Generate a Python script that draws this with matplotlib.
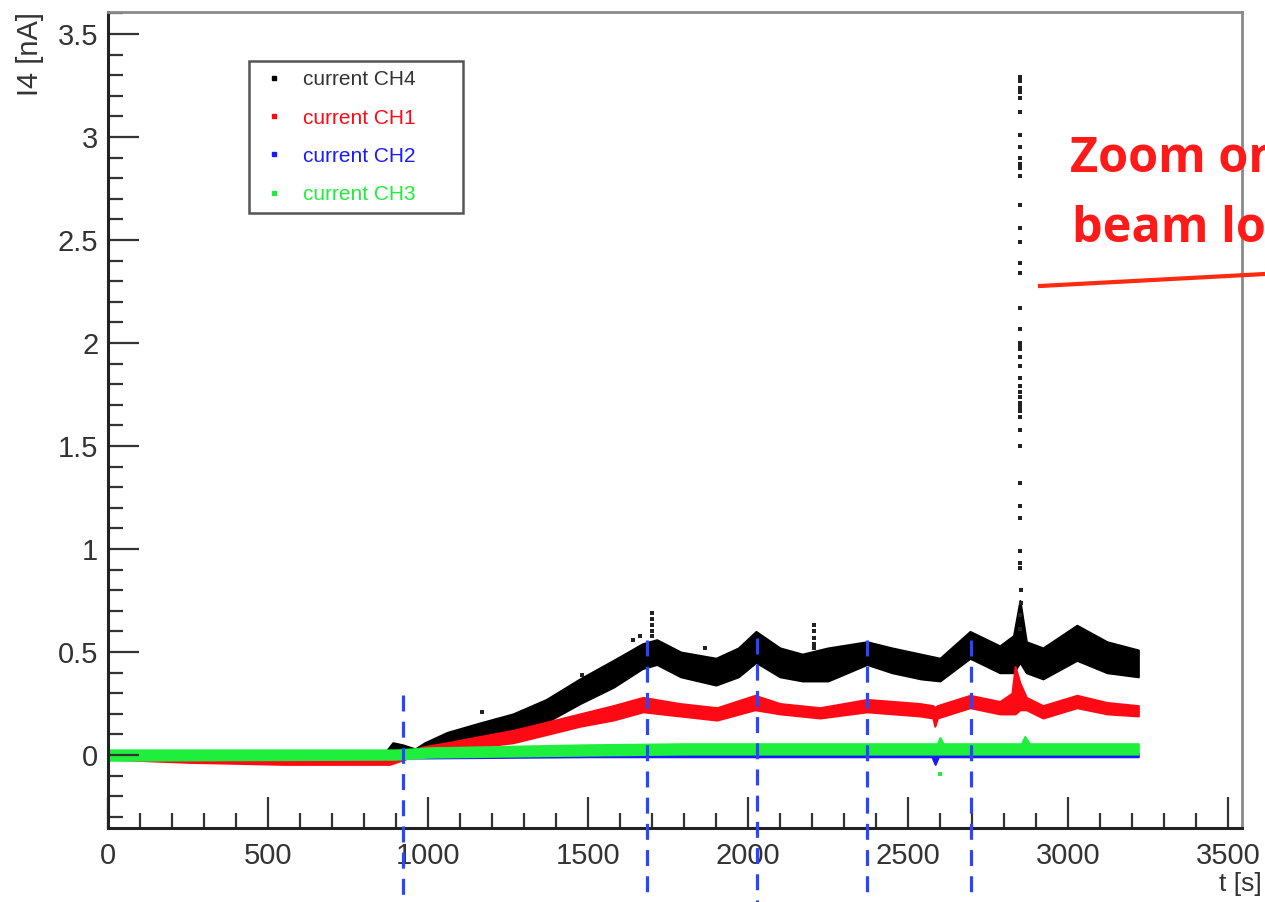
import matplotlib
matplotlib.use('Agg')
import matplotlib.pyplot as plt
from matplotlib import rcParams
from matplotlib.lines import Line2D
from matplotlib.ticker import MultipleLocator, FuncFormatter

rcParams['font.family'] = ['Liberation Sans', 'DejaVu Sans']

# ---- values: t [s], current [nA] ----
# each channel is a noisy band -> lower / upper edge of the band
t_ch4 = [0, 870, 890, 920, 960, 990, 1060, 1160, 1266, 1370, 1475, 1580, 1670, 1715,
         1790, 1900, 1970, 2025, 2100, 2170, 2250, 2372, 2450, 2540, 2600, 2694,
         2787, 2830, 2850, 2870, 2922, 3028, 3122, 3220]
lo_ch4 = [-0.02, -0.01, 0.02, 0.02, 0.01, 0.03, 0.04, 0.065, 0.11, 0.16, 0.25, 0.33, 0.42, 0.44,
          0.38, 0.34, 0.38, 0.45, 0.38, 0.36, 0.36, 0.44, 0.40, 0.37, 0.36, 0.47,
          0.40, 0.40, 0.45, 0.40, 0.37, 0.46, 0.40, 0.38]
hi_ch4 = [0.02, 0.02, 0.06, 0.05, 0.03, 0.06, 0.11, 0.155, 0.20, 0.27, 0.37, 0.46, 0.54, 0.56,
          0.50, 0.47, 0.52, 0.60, 0.52, 0.49, 0.52, 0.55, 0.52, 0.49, 0.47, 0.60,
          0.53, 0.58, 0.75, 0.55, 0.52, 0.63, 0.55, 0.51]

t_ch1 = [0, 250, 550, 880, 985, 1060, 1162, 1266, 1371, 1475, 1579, 1672, 1787, 1903,
         2022, 2100, 2225, 2372, 2537, 2578, 2584, 2592, 2694, 2787, 2825, 2835, 2850,
         2870, 2922, 3028, 3122, 3220]
lo_ch1 = [-0.02, -0.035, -0.045, -0.045, 0.01, 0.025, 0.04, 0.06, 0.10, 0.14, 0.17, 0.21, 0.19, 0.17,
          0.22, 0.20, 0.18, 0.21, 0.19, 0.18, 0.14, 0.18, 0.23, 0.20, 0.20, 0.20, 0.22,
          0.22, 0.18, 0.23, 0.20, 0.19]
hi_ch1 = [0.02, 0.005, -0.01, -0.01, 0.04, 0.06, 0.09, 0.12, 0.16, 0.20, 0.24, 0.28, 0.25, 0.23,
          0.29, 0.25, 0.23, 0.27, 0.25, 0.24, 0.23, 0.24, 0.29, 0.26, 0.30, 0.43, 0.35,
          0.28, 0.24, 0.29, 0.255, 0.24]

t_ch2 = [0, 900, 1500, 2575, 2585, 2595, 3220]
lo_ch2 = [-0.015, -0.015, -0.008, -0.008, -0.045, -0.008, -0.008]
hi_ch2 = [0.01, 0.01, 0.008, 0.008, 0.008, 0.008, 0.008]

t_ch3 = [0, 900, 1000, 1500, 1800, 2592, 2600, 2610, 2855, 2865, 2880, 3220]
lo_ch3 = [-0.025, -0.02, -0.01, 0.0, 0.005, 0.005, 0.005, 0.005, 0.005, 0.005, 0.005, 0.005]
hi_ch3 = [0.025, 0.025, 0.035, 0.05, 0.055, 0.055, 0.085, 0.055, 0.055, 0.09, 0.055, 0.055]

# single CH4 points: beam-loss spike and a few outliers
pts_ch4_t = [2850, 2850, 2851, 2850, 2849, 2850, 2850, 2851, 2850, 2850, 2849, 2850,
             2850, 2851, 2850, 2850, 2850, 2850, 2851, 2850, 2850, 2850, 2850, 2851,
             2850, 2850, 2850, 2850, 2850, 2850, 2850, 2850, 2851, 2851, 2851, 2850,
             2851, 2850, 2850, 2850, 2852, 2852, 2851, 2850,
             1700, 1700, 1700, 1700, 1700, 2206, 2206, 2206, 2206, 2206,
             1169, 1481, 1641, 1663, 1866]
pts_ch4_v = [3.29, 3.27, 3.24, 3.22, 3.19, 3.12, 3.01, 2.95, 2.90, 2.87, 2.85, 2.81,
             2.67, 2.56, 2.49, 2.39, 2.34, 2.17, 2.07, 2.00, 1.98, 1.97, 1.93, 1.89,
             1.83, 1.79, 1.76, 1.74, 1.71, 1.69, 1.67, 1.64, 1.58, 1.50, 1.32, 1.21,
             1.15, 0.99, 0.93, 0.91, 0.80, 0.74, 0.68, 0.61,
             0.69, 0.66, 0.63, 0.60, 0.58, 0.63, 0.60, 0.57, 0.54, 0.52,
             0.21, 0.39, 0.56, 0.58, 0.52]
pts_ch3_t = [2600]
pts_ch3_v = [-0.09]

# blue dashed markers added on top of the plot
vline_t = [922, 1684, 2028, 2372, 2697]
vline_top = [0.29, 0.56, 0.57, 0.56, 0.56]

labels = ['current CH4', 'current CH1', 'current CH2', 'current CH3']
colors = ['#000000', '#ff0a14', '#1a1aff', '#1eef3c']

# ---- figure ----
fig = plt.figure(figsize=(12.65, 9.02), dpi=100)
ax = fig.add_axes([108/1265, 74/902, 1134/1265, 816/902])

ax.fill_between(t_ch4, lo_ch4, hi_ch4, color=colors[0], lw=1.5)
ax.scatter(pts_ch4_t, pts_ch4_v, marker='s', s=11, color='#222222', lw=0)
ax.fill_between(t_ch1, lo_ch1, hi_ch1, color=colors[1], lw=1.5)
ax.fill_between(t_ch2, lo_ch2, hi_ch2, color=colors[2], lw=1.5)
ax.fill_between(t_ch3, lo_ch3, hi_ch3, color=colors[3], lw=1.5)
ax.scatter(pts_ch3_t, pts_ch3_v, marker='s', s=12, color=colors[3], lw=0)

for t, top in zip(vline_t, vline_top):
    ax.plot([t, t], [top, -0.72], color='#2a45ff', lw=2.3, ls=(0, (5, 3.2)),
            clip_on=False, zorder=5)

ax.set_xlim(0, 3544)
ax.set_ylim(-0.354, 3.607)

fmt = FuncFormatter(lambda v, p: '%g' % v)
ax.xaxis.set_major_locator(MultipleLocator(500))
ax.xaxis.set_minor_locator(MultipleLocator(100))
ax.yaxis.set_major_locator(MultipleLocator(0.5))
ax.yaxis.set_minor_locator(MultipleLocator(0.1))
ax.xaxis.set_major_formatter(fmt)
ax.yaxis.set_major_formatter(fmt)
ax.tick_params(which='both', direction='in', top=False, right=False,
               labelsize=21, labelcolor='#333333', color='#333333', width=1.6)
ax.tick_params(which='major', length=22)
ax.tick_params(which='minor', length=10.5)
ax.tick_params(axis='x', pad=10)
ax.tick_params(axis='y', pad=7)

for s in ['left', 'bottom']:
    ax.spines[s].set_linewidth(2.2)
    ax.spines[s].set_color('#222222')
for s in ['top', 'right']:
    ax.spines[s].set_linewidth(2.0)
    ax.spines[s].set_color('#8a8a8a')

fig.text(30/1265, 1 - 12/902, 'I4 [nA]', rotation=90, ha='center', va='top',
         fontsize=21, color='#333333')
fig.text(1262/1265, 1 - 884/902, 't [s]', ha='right', va='center',
         fontsize=19, color='#333333')

handles = [Line2D([], [], ls='none', marker='s', ms=2.2, color=c) for c in colors]
leg_h = 0.1
leg = ax.legend(handles, labels, loc='upper left', mode='expand',
                bbox_to_anchor=(249/1265, 1 - 61/902 - leg_h, 214/1265, leg_h),
                bbox_transform=fig.transFigure, borderaxespad=0,
                fontsize=15, labelcolor=['#333333'] + colors[1:], fancybox=False,
                framealpha=1, edgecolor='#555555', borderpad=0.45,
                labelspacing=0.92, handlelength=1.5, handletextpad=0.64)
leg.get_frame().set_linewidth(1.8)

# red annotation, cut by the right edge like the original screenshot
fig.text(1070/1265, 1 - 172/902, 'Zoom on', fontsize=35, fontweight='bold',
         family='Open Sans', color='#ff1a1a', ha='left', va='baseline')
fig.text(1072/1265, 1 - 242/902, 'beam loss', fontsize=35, fontweight='bold',
         family='Open Sans', color='#ff1a1a', ha='left', va='baseline')
fig.add_artist(Line2D([1040/1265, 1.0], [1 - 286/902, 1 - 274/902],
                      transform=fig.transFigure, color='#ff2a10', lw=3))

fig.savefig('out.png', dpi=100)
